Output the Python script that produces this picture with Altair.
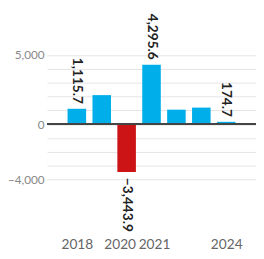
import altair as alt
import pandas as pd

years = [2018, 2019, 2020, 2021, 2022, 2023, 2024]
values = [1115.7, 2100.0, -3443.9, 4295.6, 1050.0, 1200.0, 174.7]
labelled = [True, False, True, True, False, False, True]
y_ticks = [-4000, -3000, -2000, -1000, 0, 1000, 2000, 3000, 4000, 5000]
x_tick_pos = [2018, 2019.72, 2021.1, 2024]

df = pd.DataFrame({"year": years, "value": values, "labelled": labelled})

FONT = "Lato"
xs = alt.Scale(domain=[2017, 2025], nice=False, zero=False)
ys = alt.Scale(domain=[-7800, 8000], nice=False)

base = alt.Chart(df)

bars = base.mark_bar(size=19).encode(
    x=alt.X("year:Q", scale=xs, title=None,
            axis=alt.Axis(values=x_tick_pos, tickCount=len(x_tick_pos),
                          labelExpr="format(round(datum.value), 'd')",
                          grid=False, ticks=False, domain=False, labelFont=FONT,
                          labelFontSize=14, labelColor="#666", labelPadding=6)),
    y=alt.Y("value:Q", scale=ys, title=None,
            axis=alt.Axis(values=y_ticks, tickCount=len(y_ticks),
                          labelExpr="(datum.value == 5000 || datum.value == 0 || datum.value == -4000) ? format(datum.value, ',') : ''",
                          grid=True, gridColor="#e4e4e4", ticks=False, domain=False,
                          labelOverlap=False, labelFont=FONT, labelFontSize=12,
                          labelColor="#888", labelPadding=3)),
    color=alt.condition("datum.value < 0", alt.value("#cc1417"), alt.value("#00aeea")),
)

zero = base.mark_rule(color="#444", strokeWidth=1.5).encode(y=alt.datum(0, scale=ys))

pos_labels = base.transform_filter("datum.labelled && datum.value >= 0").mark_text(
    angle=90, align="right", baseline="middle", dx=-5, font=FONT, fontSize=14,
    fontWeight="bold", color="#222"
).encode(x=alt.X("year:Q", scale=xs), y=alt.Y("value:Q", scale=ys),
         text=alt.Text("value:Q", format=",.1f"))

neg_labels = base.transform_filter("datum.labelled && datum.value < 0").mark_text(
    angle=90, align="left", baseline="middle", dx=6, font=FONT, fontSize=14,
    fontWeight="bold", color="#222"
).encode(x=alt.X("year:Q", scale=xs), y=alt.Y("value:Q", scale=ys),
         text=alt.Text("value:Q", format=",.1f"))

chart = alt.layer(bars, zero, pos_labels, neg_labels).properties(
    width=214, height=224.4,
    autosize=alt.AutoSizeParams(type="none"),
    padding={"left": 40, "top": 2.4, "right": 0, "bottom": 24},
).configure_view(stroke=None)

chart.save("out.html", embed_options={"renderer": "svg", "actions": False})
